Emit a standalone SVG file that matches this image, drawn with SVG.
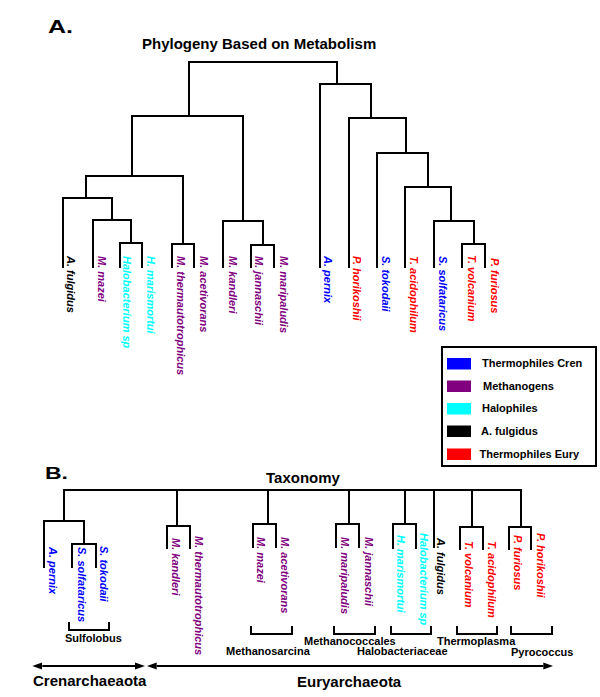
<svg xmlns="http://www.w3.org/2000/svg" width="600" height="697" viewBox="0 0 600 697">
<style>
.ln{stroke:#000;stroke-width:2;fill:none;stroke-linecap:square}
.lb{font-family:"Liberation Sans",Arial,sans-serif;font-size:11px;font-weight:bold;font-style:italic}
.tx{font-family:"Liberation Sans",Arial,sans-serif;font-weight:bold;fill:#000}
.cb{fill:#0000ff}.cm{fill:#800080}.cc{fill:#00ffff}.ck{fill:#000}.cr{fill:#ff0000}
</style>
<defs>
<marker id="ah" markerUnits="userSpaceOnUse" markerWidth="10" markerHeight="8" refX="0" refY="4" orient="auto-start-reverse" viewBox="0 0 10 8"><path d="M0,0.5 L10,4 L0,7.5 z" fill="#000"/></marker>
</defs>
<rect width="600" height="697" fill="#fff"/>

<!-- Panel A -->
<text class="tx" x="48" y="33" font-size="18" textLength="25" lengthAdjust="spacingAndGlyphs">A.</text>
<text class="tx" x="142" y="49" font-size="15">Phylogeny Based on Metabolism</text>

<g id="connectors-A" class="ln">
<path d="M189,116 V62 H337 V84"/>
<path d="M132,176 V116 H243 V221"/>
<path d="M86,198 V176 H183 V244"/>
<path d="M63,267 V198 H112 V220"/>
<path d="M93,267 V220 H131 V243"/>
<path d="M120,267 V243 H142 V267"/>
<path d="M172,267 V244 H194 V267"/>
<path d="M223,267 V221 H263 V245"/>
<path d="M251,267 V245 H274 V267"/>
<path d="M320,267 V84 H371 V118"/>
<path d="M349,267 V118 H406 V153"/>
<path d="M377,267 V153 H428 V187"/>
<path d="M405,267 V187 H451 V221"/>
<path d="M434,267 V221 H474 V244"/>
<path d="M462,267 V244 H485 V267"/>
</g>

<g id="leaf-A-afulgidus"><text class="lb ck" x="67" y="256" transform="rotate(90 67 256)">A. fulgidus</text></g>
<g id="leaf-A-mmazei"><text class="lb cm" x="98" y="256" transform="rotate(90 98 256)">M. mazei</text></g>
<g id="leaf-A-halobacterium"><text class="lb cc" x="123" y="256" transform="rotate(90 123 256)">Halobacterium sp</text></g>
<g id="leaf-A-hmarismortui"><text class="lb cc" x="147" y="256" transform="rotate(90 147 256)">H. marismortui</text></g>
<g id="leaf-A-mthermauto"><text class="lb cm" x="177" y="256" transform="rotate(90 177 256)">M. thermautotrophicus</text></g>
<g id="leaf-A-macetivorans"><text class="lb cm" x="200" y="256" transform="rotate(90 200 256)">M. acetivorans</text></g>
<g id="leaf-A-mkandleri"><text class="lb cm" x="229" y="256" transform="rotate(90 229 256)">M. kandleri</text></g>
<g id="leaf-A-mjannaschii"><text class="lb cm" x="255" y="256" transform="rotate(90 255 256)">M. jannaschii</text></g>
<g id="leaf-A-mmaripaludis"><text class="lb cm" x="280" y="256" transform="rotate(90 280 256)">M. maripaludis</text></g>
<g id="leaf-A-apernix"><text class="lb cb" x="324" y="256" transform="rotate(90 324 256)">A. pernix</text></g>
<g id="leaf-A-phorikoshii"><text class="lb cr" x="353" y="256" transform="rotate(90 353 256)">P. horikoshii</text></g>
<g id="leaf-A-stokodaii"><text class="lb cb" x="382" y="256" transform="rotate(90 382 256)">S. tokodaii</text></g>
<g id="leaf-A-tacidophilum"><text class="lb cr" x="410" y="256" transform="rotate(90 410 256)">T. acidophilum</text></g>
<g id="leaf-A-ssolfataricus"><text class="lb cb" x="439" y="256" transform="rotate(90 439 256)">S. solfataricus</text></g>
<g id="leaf-A-tvolcanium"><text class="lb cr" x="468" y="255" transform="rotate(90 468 255)">T. volcanium</text></g>
<g id="leaf-A-pfuriosus"><text class="lb cr" x="491" y="258" transform="rotate(90 491 258)">P. furiosus</text></g>

<!-- Legend -->
<g id="legend">
<rect x="442" y="347" width="154" height="119" fill="#fff" stroke="#000" stroke-width="2"/>
<rect x="447" y="358" width="24" height="11.5" fill="#0000ff"/>
<rect x="447" y="380.5" width="24" height="11.5" fill="#800080"/>
<rect x="447" y="403" width="24" height="11.5" fill="#00ffff"/>
<rect x="447" y="425.5" width="24" height="11.5" fill="#000"/>
<rect x="447" y="448.5" width="24" height="11.5" fill="#ff0000"/>
<text class="tx" font-size="11" x="482" y="367">Thermophiles Cren</text>
<text class="tx" font-size="11" x="483" y="389.5">Methanogens</text>
<text class="tx" font-size="11" x="482" y="412">Halophiles</text>
<text class="tx" font-size="11" x="481" y="435">A. fulgidus</text>
<text class="tx" font-size="11" x="479.5" y="458">Thermophiles Eury</text>
</g>

<!-- Panel B -->
<text class="tx" x="45" y="479" font-size="17" textLength="23" lengthAdjust="spacingAndGlyphs">B.</text>
<text class="tx" x="266" y="483" font-size="15">Taxonomy</text>

<g id="connectors-B" class="ln">
<path d="M64,521 V490 H521 V527"/>
<path d="M44,567 V521 H84 V544"/>
<path d="M72,567 V544 H96 V567"/>
<path d="M177,490 V526"/>
<path d="M167,548 V526 H190 V548"/>
<path d="M268,490 V524"/>
<path d="M253,547 V524 H276 V547"/>
<path d="M349,490 V524"/>
<path d="M336,547 V524 H359 V547"/>
<path d="M405,490 V524"/>
<path d="M393,548 V524 H416 V548"/>
<path d="M434,490 V547"/>
<path d="M472,490 V527"/>
<path d="M460,549 V527 H483 V549"/>
<path d="M509,549 V527 H531 V549"/>
</g>

<g id="leaf-B-apernix"><text class="lb cb" x="49" y="547" transform="rotate(90 49 547)">A. pernix</text></g>
<g id="leaf-B-ssolfataricus"><text class="lb cb" x="78" y="547" transform="rotate(90 78 547)">S. solfataricus</text></g>
<g id="leaf-B-stokodaii"><text class="lb cb" x="100" y="546" transform="rotate(90 100 546)">S. tokodaii</text></g>
<g id="leaf-B-mkandleri"><text class="lb cm" x="172" y="538" transform="rotate(90 172 538)">M. kandleri</text></g>
<g id="leaf-B-mthermauto"><text class="lb cm" x="195" y="536" transform="rotate(90 195 536)">M. thermautotrophicus</text></g>
<g id="leaf-B-mmazei"><text class="lb cm" x="257" y="537" transform="rotate(90 257 537)">M. mazei</text></g>
<g id="leaf-B-macetivorans"><text class="lb cm" x="281" y="537" transform="rotate(90 281 537)">M. acetivorans</text></g>
<g id="leaf-B-mmaripaludis"><text class="lb cm" x="341" y="537" transform="rotate(90 341 537)">M. maripaludis</text></g>
<g id="leaf-B-mjannaschii"><text class="lb cm" x="365" y="537" transform="rotate(90 365 537)">M. jannaschii</text></g>
<g id="leaf-B-hmarismortui"><text class="lb cc" x="397" y="535" transform="rotate(90 397 535)">H. marismortui</text></g>
<g id="leaf-B-halobacterium"><text class="lb cc" x="420" y="533" transform="rotate(90 420 533)">Halobacterium sp</text></g>
<g id="leaf-B-afulgidus"><text class="lb ck" x="437" y="538" transform="rotate(90 437 538)">A. fulgidus</text></g>
<g id="leaf-B-tvolcanium"><text class="lb cr" x="465" y="541" transform="rotate(90 465 541)">T. volcanium</text></g>
<g id="leaf-B-tacidophilum"><text class="lb cr" x="488" y="541" transform="rotate(90 488 541)">T. acidophilum</text></g>
<g id="leaf-B-pfuriosus"><text class="lb cr" x="514" y="535" transform="rotate(90 514 535)">P. furiosus</text></g>
<g id="leaf-B-phorikoshii"><text class="lb cr" x="537" y="533" transform="rotate(90 537 533)">P. horikoshii</text></g>

<!-- Brackets -->
<g id="brackets" class="ln">
<path d="M69,623 V630 H109 V623"/>
<path d="M251,627 V634 H292 V627"/>
<path d="M334,627 V634 H375 V627"/>
<path d="M391,627 V634 H431 V627"/>
<path d="M457,627 V634 H497 V627"/>
<path d="M511,627 V634 H552 V627"/>
</g>
<g id="group-labels">
<text class="tx" font-size="11" x="65" y="642">Sulfolobus</text>
<text class="tx" font-size="11" x="226" y="655">Methanosarcina</text>
<text class="tx" font-size="11" x="304" y="645">Methanococcales</text>
<text class="tx" font-size="11" x="357" y="655">Halobacteriaceae</text>
<text class="tx" font-size="11" x="437" y="644.5">Thermoplasma</text>
<text class="tx" font-size="11" x="511" y="655.5">Pyrococcus</text>
</g>

<!-- Domain arrows -->
<g id="domain-arrows">
<line x1="42.3" y1="666" x2="135" y2="666" stroke="#000" stroke-width="2" marker-start="url(#ah)" marker-end="url(#ah)"/>
<line x1="156.7" y1="666" x2="543.3" y2="666" stroke="#000" stroke-width="2" marker-start="url(#ah)" marker-end="url(#ah)"/>
</g>
<g id="domain-labels">
<text class="tx" font-size="15" x="33" y="686">Crenarchaeaota</text>
<text class="tx" font-size="15" x="297" y="687">Euryarchaeota</text>
</g>
</svg>
